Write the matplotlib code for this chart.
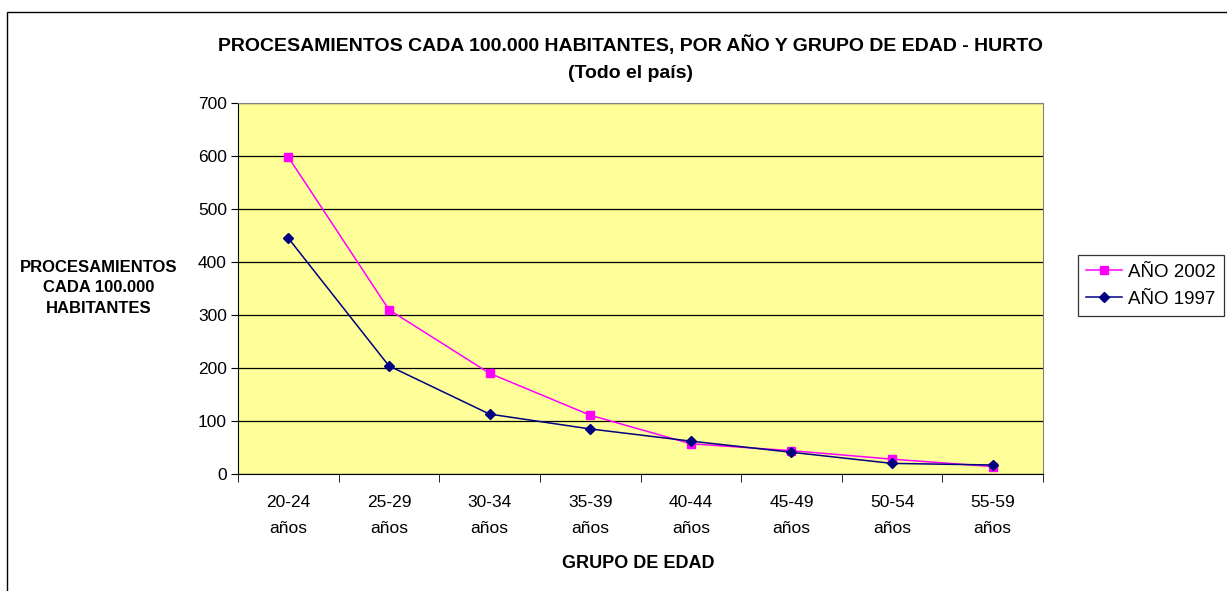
import matplotlib
matplotlib.use('Agg')
import matplotlib.pyplot as plt
import matplotlib.patches as patches
import numpy as np

plt.rcParams['font.family'] = ['Liberation Sans', 'DejaVu Sans']

# data
grupos = ['20-24\naños', '25-29\naños', '30-34\naños', '35-39\naños',
          '40-44\naños', '45-49\naños', '50-54\naños', '55-59\naños']
anio_2002 = [598, 310, 190, 111, 57, 44, 28, 14]
anio_1997 = [445, 204, 113, 85, 62, 41, 20, 17]
y_ticks = [0, 100, 200, 300, 400, 500, 600, 700]

W, H = 1227, 591
fig = plt.figure(figsize=(W / 100, H / 100), dpi=100)
fig.patch.set_facecolor('white')

# outer chart border (cut at right and bottom like the reference)
fig.patches.append(patches.Rectangle((7 / W, -0.05), 1.1, 1 - 12 / H + 0.05,
                                     transform=fig.transFigure, fill=False,
                                     edgecolor='black', linewidth=1.0))

ax = fig.add_axes([238 / W, (H - 474) / H, 805 / W, 371 / H])
ax.set_facecolor('#FFFF99')

x = np.arange(len(grupos))
ax.plot(x, anio_2002, color='#FF00FF', marker='s', markersize=6,
        linewidth=1.1, label='AÑO 2002', zorder=3)
ax.plot(x, anio_1997, color='#000080', marker='D', markersize=5,
        linewidth=1.1, label='AÑO 1997', zorder=4)

ax.set_xlim(-0.5, len(grupos) - 0.5)
ax.set_ylim(0, 700)
ax.set_yticks(y_ticks)
ax.set_yticklabels([str(v) for v in y_ticks], fontsize=12.5)
ax.yaxis.grid(True, color='black', linewidth=0.9)
ax.set_axisbelow(True)

ax.set_xticks(x)
ax.set_xticklabels(grupos, fontsize=12.5, linespacing=1.9)
ax.set_xticks(np.arange(-0.5, len(grupos)), minor=True)
ax.tick_params(axis='x', which='major', length=0, pad=15)
ax.tick_params(axis='x', which='minor', length=6, direction='out', color='black')
ax.tick_params(axis='y', length=5, direction='out', color='black', pad=3)

for s in ['top', 'right']:
    ax.spines[s].set_color('#808080')
for s in ['left', 'bottom']:
    ax.spines[s].set_color('black')

fig.text(630 / W, 1 - 45 / H, 'PROCESAMIENTOS CADA 100.000 HABITANTES, POR AÑO Y GRUPO DE EDAD - HURTO',
         ha='center', va='center', fontsize=14, fontweight='bold')
fig.text(630 / W, 1 - 73 / H, '(Todo el país)',
         ha='center', va='center', fontsize=14, fontweight='bold')
fig.text(99 / W, 1 - 288 / H, 'PROCESAMIENTOS\nCADA 100.000\nHABITANTES',
         ha='center', va='center', fontsize=12, fontweight='bold', linespacing=1.45)
fig.text(638 / W, 1 - 563 / H, 'GRUPO DE EDAD',
         ha='center', va='center', fontsize=13, fontweight='bold')

leg = ax.legend(loc='upper left', bbox_to_anchor=(1078 / W, 1 - 255 / H),
                bbox_transform=fig.transFigure, fontsize=13.5, frameon=True,
                fancybox=False, edgecolor='black', borderaxespad=0,
                handlelength=1.9, handletextpad=0.3, borderpad=0.45,
                labelspacing=0.55)
leg.get_frame().set_linewidth(0.9)

fig.savefig('out.png', dpi=100, facecolor='white')
